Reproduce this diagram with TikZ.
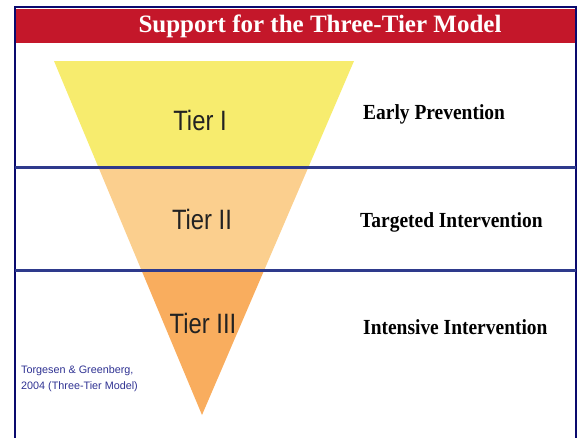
\documentclass[tikz,border=0pt]{standalone}
\usepackage{fontspec}
\setmainfont{Liberation Serif}
\newfontfamily\tierfont[FakeStretch=0.85]{Liberation Sans}
\newfontfamily\labfont[FakeStretch=0.905]{Liberation Serif}
\newfontfamily\citefont{Liberation Sans}
\usetikzlibrary{positioning,calc}
\definecolor{bannerred}{HTML}{C4172A}
\definecolor{framenavy}{HTML}{0A0A6E}
\definecolor{sepblue}{HTML}{2E3A8C}
\definecolor{tieryellow}{HTML}{F7EC6E}
\definecolor{tierpeach}{HTML}{FBCF8E}
\definecolor{tierorange}{HTML}{F9AD5E}
\definecolor{tiergray}{HTML}{222222}
\definecolor{citeblue}{HTML}{2E3192}
\tikzset{
  frame/.style = { draw=framenavy, line width=2pt },
  sep/.style   = { draw=sepblue, line width=3pt },
  tier/.style  = { font=\tierfont\fontsize{28}{28}\selectfont, text=tiergray, inner sep=0pt, anchor=base },
  lab/.style   = { font=\labfont\bfseries\fontsize{21.5}{21.5}\selectfont, inner sep=0pt, anchor=base west },
  cite/.style  = { font=\citefont\fontsize{10.8}{16}\selectfont, text=citeblue, inner sep=0pt, anchor=base west, align=left }
}

\begin{document}
\begin{tikzpicture}[x=1pt,y=-1pt]
  \useasboundingbox (0,0) rectangle (578,437);
  \clip (0,0) rectangle (578,437);
  % banner and frame
  \fill[bannerred] (16,9) rectangle (575,43);
  \draw[frame] (15,445) -- (15,7) -- (576,7) -- (576,445);
  \node[font=\bfseries\fontsize{25}{25}\selectfont, text=white, inner sep=0pt, anchor=base] (title) at (320,32) {Support for the Three-Tier Model};
  % inverted triangle, split in three bands
  \coordinate (tl) at (54,61);
  \coordinate (tr) at (354,61);
  \coordinate (apex) at (202,415);
  \begin{scope}
    \clip (tl) -- (tr) -- (apex) -- cycle;
    \fill[tieryellow] (40,55) rectangle (370,167);
    \fill[tierpeach] (40,167) rectangle (370,270);
    \fill[tierorange] (40,270) rectangle (370,420);
  \end{scope}
  % separators
  \coordinate (s1l) at (15,167);
  \coordinate (s1r) at (576,167);
  \coordinate (s2l) at (15,270);
  \coordinate (s2r) at (576,270);
  \path[sep] (s1l) -- (s1r);
  \path[sep] (s2l) -- (s2r);
  % tiers
  \node[tier] (t1) at (200,130) {Tier I};
  \node[tier] (t2) at (202,229) {Tier II};
  \node[tier] (t3) at (203,333) {Tier III};
  \node[lab] (l1) at (363,119) {Early Prevention};
  \node[lab] (l2) at (360,227) {Targeted Intervention};
  \node[lab] (l3) at (363,334) {Intensive Intervention};
  % source
  \node[cite] (src) at (21,389) {Torgesen \& Greenberg,\\2004 (Three-Tier Model)};
\end{tikzpicture}
\end{document}
